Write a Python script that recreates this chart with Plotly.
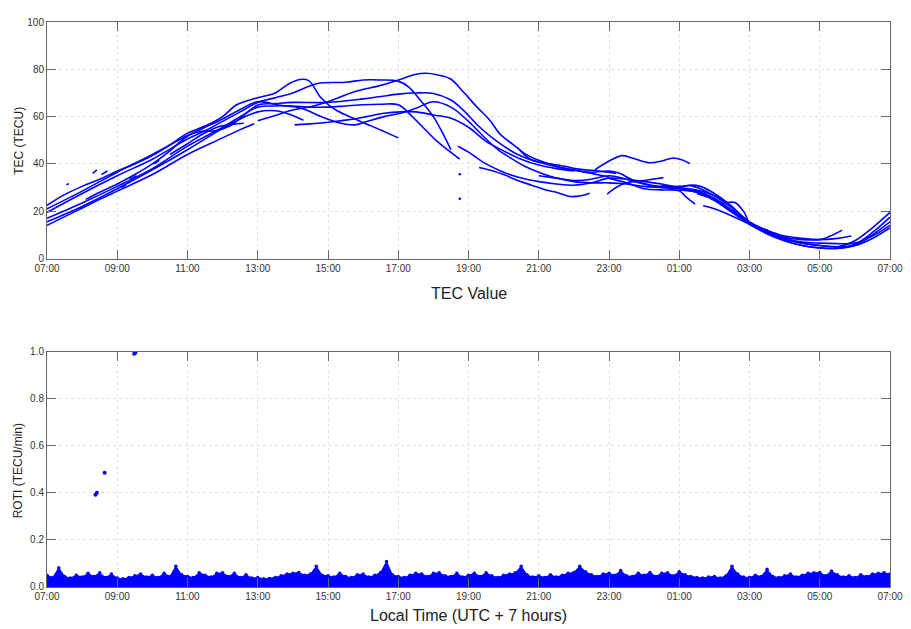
import plotly.graph_objects as go

# ---------------- DATA ----------------
# x = local time in hours (07:00 .. 31 == 07:00 next day)
TICK_VALS = [7, 9, 11, 13, 15, 17, 19, 21, 23, 25, 27, 29, 31]
TICK_TEXT = ["07:00", "09:00", "11:00", "13:00", "15:00", "17:00", "19:00",
             "21:00", "23:00", "01:00", "03:00", "05:00", "07:00"]

ARC01_LT = [7.0, 7.5, 8.0, 8.5, 9.0, 9.5, 10.0, 10.5, 11.0, 11.5, 12.0, 12.4, 13.0, 13.5, 13.9, 14.2, 14.45, 14.8, 15.2, 15.85, 16.5, 17.0]
ARC01_TEC = [22.5, 27, 30.5, 33.5, 37, 40, 43.5, 48, 53, 56, 60, 65, 68, 70, 74, 75.7, 75.2, 68, 63, 58.5, 54.3, 51]

ARC02_LT = [7.0, 8.0, 9.0, 10.0, 11.0, 11.5, 12.0, 12.5, 13.0, 13.5, 14.0, 14.7, 15.5, 16.0, 16.5, 17.0, 17.3, 17.6, 18.0, 18.3, 18.5]
ARC02_TEC = [19.5, 27.5, 35, 42, 50.5, 54, 58, 62, 66, 68, 70, 74, 74.5, 75.5, 75.5, 75, 72.5, 67.5, 60, 52, 46]

ARC03_LT = [13.0, 13.5, 14.0, 14.5, 15.0, 15.75, 16.5, 17.05, 17.45, 17.8, 18.1, 18.48, 18.85, 19.23, 19.6, 19.9, 20.27, 20.64, 21.0, 21.5, 22.0, 22.5, 23.0]
ARC03_TEC = [58.2, 60.5, 62.8, 64.2, 66.3, 70.5, 73.2, 75.7, 77.7, 78.3, 77.7, 76, 70.5, 64.2, 58.6, 52.6, 48.2, 44, 41.5, 39, 37.5, 36, 34.5]

ARC04_LT = [7.0, 8.0, 9.0, 10.0, 11.0, 11.5, 12.0, 12.5, 13.0, 13.6, 14.24, 14.8, 15.37, 15.75, 16.1, 16.6, 17.07, 17.5, 18.0, 18.5, 19.0, 19.4, 19.8, 20.2, 20.6, 21.0, 21.5, 22.0, 22.5, 23.0, 23.5, 24.0, 24.5, 25.0, 25.5, 25.9]
ARC04_TEC = [21, 28.5, 36.5, 44, 52, 55.5, 59, 63, 66.3, 64.9, 63.5, 60, 57.2, 56.5, 57.9, 60, 61.4, 63.5, 66.3, 64, 58, 52, 46.5, 42.5, 39, 36.5, 34, 32.5, 32, 32, 31.5, 30.5, 30, 29.5, 28, 26]

ARC05_LT = [7.0, 8.0, 9.0, 10.0, 11.0, 12.0, 12.5, 13.0, 13.5, 14.0, 14.5, 15.0, 15.5, 16.0, 16.5, 17.0, 17.4, 17.8, 18.1, 18.4, 18.75]
ARC05_TEC = [17, 23.5, 30.5, 38, 47.5, 55.5, 60, 64, 64.5, 64.5, 64, 64, 64.5, 65, 65.2, 65, 60, 54, 49.6, 46, 42]

ARC06_LT = [7.0, 8.0, 9.0, 10.0, 11.0, 12.0, 12.5, 13.0, 13.5, 13.9, 14.3]
ARC06_TEC = [15.5, 22, 29.5, 37.5, 46, 55, 59, 62, 62.5, 61, 58.5]

ARC07_LT = [7.0, 7.75, 8.5, 9.0, 10.0, 11.0, 12.0, 12.5, 12.9]
ARC07_TEC = [14, 19.5, 25, 28.5, 35.5, 44, 51, 54.5, 57]

ARC08_LT = [10.5, 11.0, 11.4, 11.9, 12.3, 12.6]
ARC08_TEC = [44, 48.5, 52.3, 55.8, 56.8, 57.2]

ARC09_LT = [8.1, 8.5, 9.0, 9.5, 10.0, 10.5, 10.8, 11.1, 11.4, 11.8, 12.2, 12.6, 13.0, 13.5, 14.0, 15.0, 16.0, 16.5, 17.0, 17.5, 18.0, 18.5, 18.9, 19.3, 19.8, 20.4, 20.9, 21.7, 22.2, 22.7, 23.2]
ARC09_TEC = [25, 28, 31.5, 35.5, 40, 45.5, 49.5, 52.5, 53.8, 54, 56, 60.5, 64.9, 65.5, 66, 66, 67.5, 68.5, 69.5, 70, 69.8, 67, 62, 55.8, 49.6, 44, 41.2, 39.1, 37.7, 37, 36]

ARC10_LT = [19.3, 19.7, 20.0, 20.4, 20.8, 21.2, 21.5, 21.9, 22.2, 22.45]
ARC10_TEC = [38.5, 37, 35.5, 33, 31, 29, 28, 26.2, 26.5, 27.6]

ARC11_LT = [18.7, 19.0, 19.5, 20.0, 20.5, 21.0, 21.5, 22.0, 22.5, 23.0, 23.5, 24.0, 24.5, 25.0, 25.5, 26.0, 26.5, 27.0, 27.5, 28.0, 28.5, 29.0, 29.5, 30.0, 30.5, 31.0]
ARC11_TEC = [47.5, 45, 40, 36.5, 34, 32.5, 31.5, 31, 32, 34, 33.5, 32.5, 31.5, 30, 29, 26.5, 21.5, 15.5, 11.5, 8.5, 6.5, 5.5, 5, 5.5, 8.5, 13]

ARC12_LT = [20.4, 20.75, 21.2, 21.9, 22.5, 23.0, 23.3, 23.7, 24.2, 24.6, 25.0, 25.3, 25.6, 26.0, 26.5, 27.0, 27.5, 28.0, 28.5, 29.0, 29.5, 29.9]
ARC12_TEC = [46.8, 42, 40, 37.5, 36.5, 37, 36, 33, 31, 30.5, 30.5, 30.8, 29.5, 26.5, 21.5, 15.5, 12, 9.5, 8.5, 8, 8.5, 9.5]

ARC13_LT = [21.0, 21.5, 22.0, 22.5, 23.0, 23.5, 24.0, 24.5, 25.0, 25.3, 25.6, 26.0, 26.5, 27.0, 27.5, 28.0, 28.5, 29.0, 29.3, 29.64]
ARC13_TEC = [35, 34, 33, 33.5, 35, 33.5, 31.5, 30, 30, 31, 30.5, 27.5, 22, 15, 11.5, 9, 8, 8, 9.5, 12]

ARC14_LT = [22.6, 23.0, 23.37, 23.66, 24.13, 24.5, 24.83, 25.07, 25.3]
ARC14_TEC = [37.5, 41.2, 43.5, 42.5, 40.5, 41.2, 42.5, 41.8, 40.2]

ARC15_LT = [22.95, 23.2, 23.5, 24.0, 24.55]
ARC15_TEC = [27.2, 30, 32, 33, 34.2]

ARC16_LT = [23.0, 23.5, 24.0, 24.5, 25.0, 25.2, 25.45]
ARC16_TEC = [34, 32, 29.5, 29, 28.6, 26, 23]

ARC17_LT = [25.68, 26.0, 26.5, 27.0, 27.5, 28.0, 28.5, 29.0, 29.5, 30.0, 30.5, 31.0]
ARC17_TEC = [22.3, 21, 18, 14.5, 10.5, 7.5, 5.5, 4.5, 4.3, 5.5, 10, 15.5]

ARC18_LT = [25.5, 25.9, 26.2, 26.45, 26.6, 26.85, 27.0, 27.25, 27.52]
ARC18_TEC = [27.5, 25.5, 23.5, 23.8, 23.6, 19.5, 15, 13, 12]

ARC19_LT = [24.5, 25.0, 25.5, 26.0, 26.5, 27.0, 27.5, 28.0, 28.5, 29.0, 29.5, 30.0, 30.5, 31.0]
ARC19_TEC = [31, 29.5, 28.5, 25.5, 20.5, 15, 11, 8, 6.5, 5.5, 5, 7.5, 13, 19.5]

ARC20_LT = [25.0, 25.5, 26.0, 26.5, 27.0, 27.5, 28.0, 28.5, 29.0, 29.5, 30.0, 30.5, 31.0]
ARC20_TEC = [29, 28, 24.5, 19.5, 14.5, 10.5, 7.5, 5.5, 4.5, 4.3, 6, 11, 17.5]

ARC21_LT = [26.0, 26.5, 27.0, 27.5, 28.0, 28.5, 29.0, 29.5, 30.0, 30.5, 31.0]
ARC21_TEC = [25, 20, 14.8, 11, 8.5, 7, 6.5, 6.3, 6.5, 9.5, 14]

ARC22_LT = [14.05, 14.4, 15.2, 15.56, 16.1, 16.6, 17.07, 17.5, 18.0, 18.5, 19.0, 19.5, 20.0, 20.5, 21.0, 21.5, 22.0]
ARC22_TEC = [56.5, 56.8, 57.9, 58.6, 60, 61.4, 62, 62, 60.7, 59.3, 55.5, 49.5, 45.5, 42, 39.5, 38, 37]

# short fragments (start, end) and isolated dots
FRAG_LT = [(7.55, 7.62), (8.3, 8.42), (8.55, 8.72), (9.12, 9.25), (9.35, 9.55), (10.05, 10.2)]
FRAG_TEC = [(31.2, 31.6), (36.0, 37.5), (35.5, 37.0), (30.0, 31.0), (33.5, 35.0), (40.0, 41.5)]
DOT_LT = [18.75, 18.75]
DOT_TEC = [35.6, 25.3]

# ROTI: top of the dense noise band, every 10 minutes from 07:00
ROTI_ENV = [
    0.050, 0.040, 0.082, 0.045, 0.038, 0.050,
    0.042, 0.058, 0.045, 0.060, 0.040, 0.055,
    0.038, 0.035, 0.040, 0.048, 0.055, 0.042,
    0.050, 0.040, 0.058, 0.045, 0.088, 0.052,
    0.045, 0.040, 0.060, 0.050, 0.042, 0.058,
    0.060, 0.045, 0.058, 0.040, 0.052, 0.038,
    0.040, 0.035, 0.036, 0.040, 0.048, 0.055,
    0.058, 0.062, 0.050, 0.055, 0.088, 0.050,
    0.048, 0.042, 0.058, 0.045, 0.040, 0.052,
    0.055, 0.042, 0.050, 0.062, 0.108, 0.052,
    0.045, 0.040, 0.050, 0.058, 0.055, 0.045,
    0.058, 0.060, 0.048, 0.045, 0.058, 0.042,
    0.050, 0.058, 0.045, 0.060, 0.048, 0.040,
    0.050, 0.055, 0.060, 0.088, 0.052, 0.042,
    0.048, 0.040, 0.052, 0.042, 0.050, 0.058,
    0.062, 0.088, 0.065, 0.052, 0.045, 0.055,
    0.058, 0.050, 0.070, 0.048, 0.045, 0.058,
    0.050, 0.062, 0.045, 0.058, 0.060, 0.048,
    0.065, 0.052, 0.045, 0.040, 0.038, 0.042,
    0.045, 0.038, 0.048, 0.088, 0.055, 0.042,
    0.040, 0.050, 0.045, 0.075, 0.045, 0.040,
    0.048, 0.055, 0.042, 0.050, 0.058, 0.060,
    0.062, 0.048, 0.068, 0.052, 0.042, 0.048,
    0.040, 0.052, 0.045, 0.055, 0.058, 0.060,
    0.055,
]
ROTI_OUT_LT = [8.38, 8.42, 8.64, 9.48, 9.52]
ROTI_OUT_VAL = [0.392, 0.400, 0.485, 0.990, 0.995]

ARCS = [
    (ARC01_LT, ARC01_TEC), (ARC02_LT, ARC02_TEC), (ARC03_LT, ARC03_TEC),
    (ARC04_LT, ARC04_TEC), (ARC05_LT, ARC05_TEC), (ARC06_LT, ARC06_TEC),
    (ARC07_LT, ARC07_TEC), (ARC08_LT, ARC08_TEC), (ARC09_LT, ARC09_TEC),
    (ARC10_LT, ARC10_TEC), (ARC11_LT, ARC11_TEC), (ARC12_LT, ARC12_TEC),
    (ARC13_LT, ARC13_TEC), (ARC14_LT, ARC14_TEC), (ARC15_LT, ARC15_TEC),
    (ARC16_LT, ARC16_TEC), (ARC17_LT, ARC17_TEC), (ARC18_LT, ARC18_TEC),
    (ARC19_LT, ARC19_TEC), (ARC20_LT, ARC20_TEC), (ARC21_LT, ARC21_TEC),
    (ARC22_LT, ARC22_TEC),
]

# ---------------- FIGURE ----------------
BLUE = "#0000ff"
fig = go.Figure()

for lt, tec in ARCS:
    fig.add_trace(go.Scatter(x=lt, y=tec, mode="lines",
                             line=dict(color=BLUE, width=1.6, shape="spline", smoothing=1.0),
                             xaxis="x", yaxis="y", showlegend=False, hoverinfo="skip"))

fx, fy = [], []
for (a, b), (c, d) in zip(FRAG_LT, FRAG_TEC):
    fx += [a, b, None]
    fy += [c, d, None]
fig.add_trace(go.Scatter(x=fx, y=fy, mode="lines", line=dict(color=BLUE, width=1.5),
                         xaxis="x", yaxis="y", showlegend=False))
fig.add_trace(go.Scatter(x=DOT_LT, y=DOT_TEC, mode="markers", marker=dict(color=BLUE, size=2.5),
                         xaxis="x", yaxis="y", showlegend=False))

roti_lt = [7 + i / 6 for i in range(len(ROTI_ENV))]
fig.add_trace(go.Scatter(x=roti_lt, y=ROTI_ENV, mode="lines+markers",
                         line=dict(color=BLUE, width=1), marker=dict(color=BLUE, size=3.5),
                         fill="tozeroy", fillcolor=BLUE,
                         xaxis="x2", yaxis="y2", showlegend=False))
fig.add_trace(go.Scatter(x=ROTI_OUT_LT, y=ROTI_OUT_VAL, mode="markers",
                         marker=dict(color=BLUE, size=4),
                         xaxis="x2", yaxis="y2", showlegend=False))

FONT = "Liberation Sans, Arial"
TICK_FONT = dict(family=FONT, size=10, color="#333333")
common_x = dict(range=[7, 31], tickvals=TICK_VALS, ticktext=TICK_TEXT, ticks="inside", ticklen=9,
                tickcolor="#666666", showline=True, linecolor="#666666", linewidth=1, mirror="ticks",
                showgrid=True, gridcolor="#e0e0e0", griddash="dot", gridwidth=1, zeroline=False,
                tickfont=TICK_FONT)
common_y = dict(ticks="inside", ticklen=9, tickcolor="#666666", showline=True, linecolor="#666666",
                linewidth=1, mirror="ticks", showgrid=True, gridcolor="#e0e0e0", griddash="dot",
                gridwidth=1, zeroline=False, tickfont=TICK_FONT)

fig.update_layout(
    width=903, height=621,
    margin=dict(l=39, r=15, t=8, b=42),
    paper_bgcolor="white", plot_bgcolor="white",
    showlegend=False,
    xaxis=dict(domain=[0, 1], anchor="y", **common_x),
    yaxis=dict(domain=[0.5814, 1], anchor="x", range=[0, 100], tickvals=[0, 20, 40, 60, 80, 100], **common_y),
    xaxis2=dict(domain=[0, 1], anchor="y2", **common_x),
    yaxis2=dict(domain=[0, 0.4168], anchor="x2", range=[0, 1], tickvals=[0, 0.2, 0.4, 0.6, 0.8, 1.0],
                tickformat=".1f", **common_y),
    annotations=[
        dict(text="TEC Value", x=0.5, y=0.520, xref="paper", yref="paper", showarrow=False,
             xanchor="center", yanchor="middle",
             font=dict(family=FONT, size=16, color="#222222")),
        dict(text="Local Time (UTC + 7 hours)", x=0.5, y=-0.0508, xref="paper", yref="paper",
             showarrow=False, xanchor="center", yanchor="middle",
             font=dict(family=FONT, size=16, color="#222222")),
        dict(text="TEC (TECU)", x=-0.0342, y=0.79, xref="paper", yref="paper", showarrow=False,
             textangle=-90, xanchor="center", yanchor="middle",
             font=dict(family=FONT, size=12, color="#222222")),
        dict(text="ROTI (TECU/min)", x=-0.0342, y=0.205, xref="paper", yref="paper", showarrow=False,
             textangle=-90, xanchor="center", yanchor="middle",
             font=dict(family=FONT, size=12, color="#222222")),
    ],
)

fig.write_html("out.html")
